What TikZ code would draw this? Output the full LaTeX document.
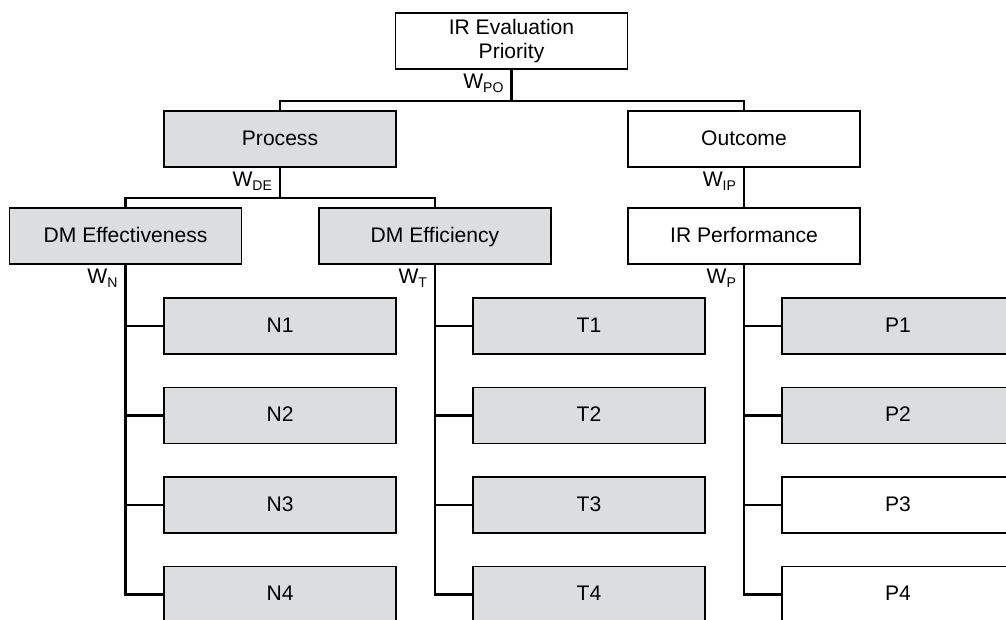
\documentclass[tikz,border=0pt]{standalone}
\usepackage{fontspec}
\setmainfont{Liberation Sans}
\definecolor{boxgray}{RGB}{220,221,223}
\begin{document}
\begin{tikzpicture}[
box/.style={
    rectangle,
    draw,
    line width=0.9pt,
    minimum width=4.64cm,
    minimum height=1.12cm,
    inner sep=0pt,
    text height=0.97em,
    text depth=0.25em,
    align=center,
    font=\fontsize{12}{14}\selectfont
},
greybox/.style={box, fill=boxgray},
wlab/.style={
    anchor=north east,
    inner sep=1pt,
    xshift=-0.1cm,
    yshift=-0.05cm,
    font=\fontsize{12}{14}\selectfont
},
link/.style={line width=1.2pt}
]
\useasboundingbox (0,0) rectangle (20.12,-12.38);
\clip (0,0) rectangle (20.12,-12.38);

%---------------- Top levels ----------------
\node[box, text height=, text depth=] (prio) at (10.23,-0.82) {IR Evaluation\\Priority};
\node[greybox] (proc) at (5.6,-2.78) {Process};
\node[box] (outc) at (14.88,-2.78) {Outcome};

\node[greybox] (eff) at (2.51,-4.72) {DM Effectiveness};
\node[greybox] (effi) at (8.7,-4.72) {DM Efficiency};
\node[box] (perf) at (14.88,-4.72) {IR Performance};

\coordinate (busa) at (10.23,-2.02);
\coordinate (busb) at (5.6,-3.96);

\draw[link] (prio) -- (busa);
\draw[link] (busa) -| (proc);
\draw[link] (busa) -| (outc);
\draw[link] (proc) -- (busb);
\draw[link] (busb) -| (eff);
\draw[link] (busb) -| (effi);
\draw[link] (outc) -- (perf);

\node[wlab] (wpo) at (prio.south) {W\textsubscript{PO}};
\node[wlab] (wde) at (proc.south) {W\textsubscript{DE}};
\node[wlab] (wip) at (outc.south) {W\textsubscript{IP}};
\node[wlab] (wn) at (eff.south) {W\textsubscript{N}};
\node[wlab] (wt) at (effi.south) {W\textsubscript{T}};
\node[wlab] (wp) at (perf.south) {W\textsubscript{P}};

%---------------- Effectiveness ----------------
\node[greybox] (n1) at (5.6,-6.52) {N1};
\node[greybox] (n2) at (5.6,-8.31) {N2};
\node[greybox] (n3) at (5.6,-10.1) {N3};
\node[greybox] (n4) at (5.6,-11.89) {N4};

\draw[link] (eff) |- (n4);
\draw[link] (eff |- n1) -- (n1);
\draw[link] (eff |- n2) -- (n2);
\draw[link] (eff |- n3) -- (n3);

%---------------- Efficiency ----------------
\node[greybox] (t1) at (11.78,-6.52) {T1};
\node[greybox] (t2) at (11.78,-8.31) {T2};
\node[greybox] (t3) at (11.78,-10.1) {T3};
\node[greybox] (t4) at (11.78,-11.89) {T4};

\draw[link] (effi) |- (t4);
\draw[link] (effi |- t1) -- (t1);
\draw[link] (effi |- t2) -- (t2);
\draw[link] (effi |- t3) -- (t3);

%---------------- Performance ----------------
\node[greybox] (p1) at (17.96,-6.52) {P1};
\node[greybox] (p2) at (17.96,-8.31) {P2};
\node[box] (p3) at (17.96,-10.1) {P3};
\node[box] (p4) at (17.96,-11.89) {P4};

\draw[link] (perf) |- (p4);
\draw[link] (perf |- p1) -- (p1);
\draw[link] (perf |- p2) -- (p2);
\draw[link] (perf |- p3) -- (p3);

\end{tikzpicture}
\end{document}
